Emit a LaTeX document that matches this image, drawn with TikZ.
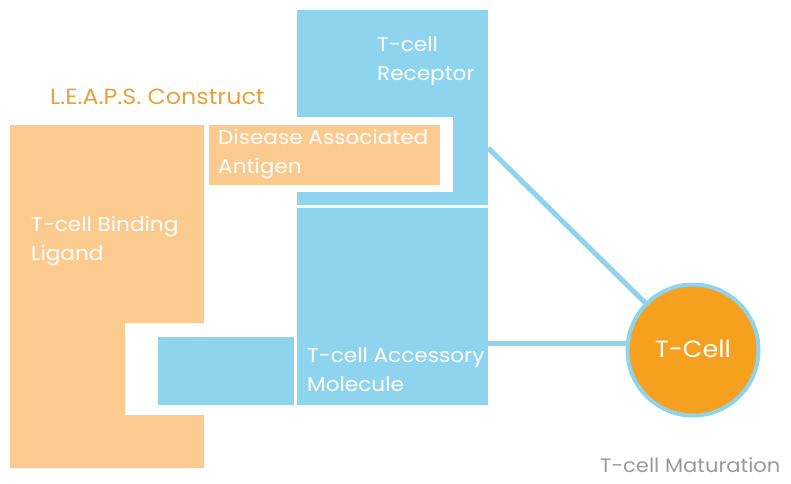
\documentclass[tikz,border=0pt]{standalone}
\usepackage{fontspec}
\setmainfont{Poppins}[FakeStretch=1.08]
\usepackage{tikz}
\usetikzlibrary{positioning}
\definecolor{tcBlue}{HTML}{8FD4EE}
\definecolor{tcPeach}{HTML}{FBCA8E}
\definecolor{tcOrange}{HTML}{F5A11F}
\definecolor{tcTitle}{HTML}{E6A23C}
\definecolor{tcGrey}{HTML}{9A9A9A}

\begin{document}
\begin{tikzpicture}[
        x=1pt, y=-1pt,
        % flat blocks, no outline
        blu/.style ={fill=tcBlue, draw=none, inner sep=0pt},
        pch/.style ={fill=tcPeach, draw=none, inner sep=0pt},
        lbl/.style ={text=white, align=left, anchor=north west, inner sep=0pt,
                font=\fontsize{20}{29}\selectfont},
        link/.style={draw=tcBlue, line width=5pt},
        cell/.style={circle, fill=tcOrange, draw=tcBlue, line width=4pt,
                minimum size=131pt, inner sep=0pt, text=white,
                font=\fontsize{23.5}{30}\selectfont}
    ]
    \useasboundingbox (0,0) rectangle (791,483);

    % ligand block with the notch that takes the accessory stub
    \fill[tcPeach] (10,125) -- (204,125) -- (204,323) -- (125,323) -- (125,415)
        -- (204,415) -- (204,468) -- (10,468) -- cycle;

    \node[blu, minimum width=191pt, minimum height=195pt] (rec)  at (392.5,107.5) {};
    \node[blu, minimum width=191pt, minimum height=197pt] (acc)  at (392.5,306.5) {};
    \node[blu, minimum width=136pt, minimum height=68pt]  (stub) at (226,371) {};

    % white window cut into the receptor around the antigen
    \fill[white] (297,117) rectangle (453,192);
    \node[pch, minimum width=231pt, minimum height=60pt] (dag) at (324.5,155) {};

    \node[cell] (tcell) at (693,350) {\raisebox{2.5pt}{T-Cell}};

    \node[lbl] (recl) at (377,36)  {T-cell\\Receptor};
    \node[lbl] (dagl) at (218,129) {Disease Associated\\Antigen};
    \node[lbl] (ligl) at (31,216)  {T-cell Binding\\Ligand};
    \node[lbl] (accl) at (307,347) {T-cell Accessory\\Molecule};

    \node[text=tcTitle, anchor=north west, inner sep=0pt,
          font=\fontsize{22}{24}\selectfont] (title) at (50,89) {L.E.A.P.S. Construct};
    \node[text=tcGrey, anchor=north west, inner sep=0pt,
          font=\fontsize{19.5}{24}\selectfont] (stage) at (600,457) {T-cell Maturation};

    \draw[link] ([yshift=-40.5pt]rec.east) -- (tcell);
    \draw[link] ([yshift=-36.5pt]acc.east) -- ([yshift=7pt]tcell.west);

\end{tikzpicture}
\end{document}
